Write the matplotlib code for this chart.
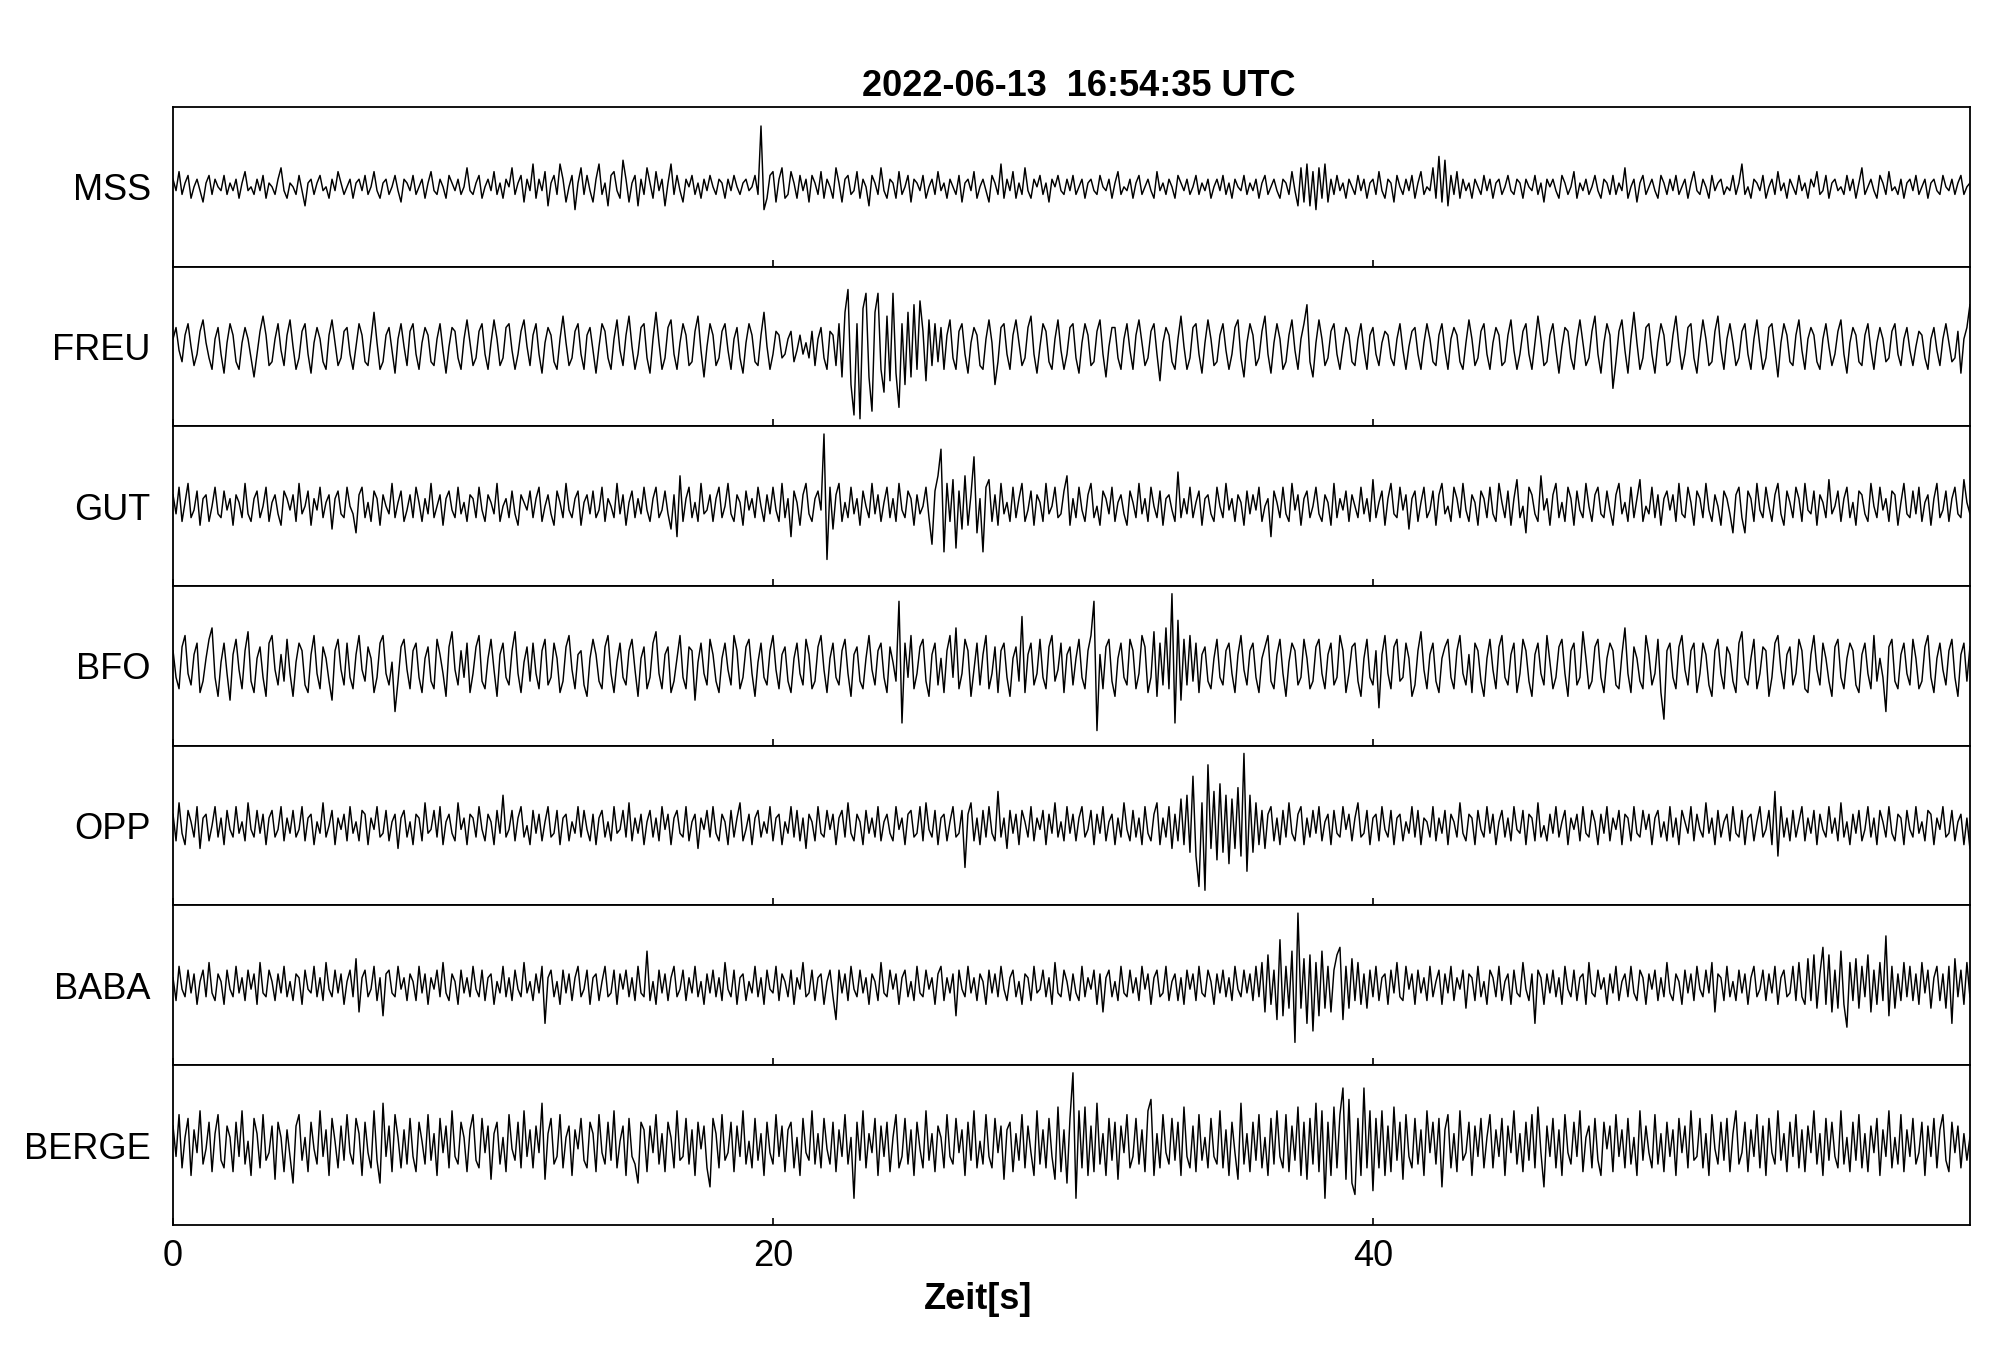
import numpy as np
import matplotlib
matplotlib.use('Agg')
import matplotlib.pyplot as plt

plt.rcParams['font.family'] = ['Liberation Sans', 'DejaVu Sans']

title = '2022-06-13  16:54:35 UTC'
stations = ['MSS', 'FREU', 'GUT', 'BFO', 'OPP', 'BABA', 'BERGE']
dt = 0.1  # Sekunden pro Wert

# Spuren (relative Amplitude, 0.1 s Raster)
mss = [
    2,-1,4,-2,1,3,-3,0,2,-1,-4,1,3,-2,2,0,-1,3,-2,1,
    -1,2,-3,1,4,-1,0,-2,2,-1,3,-3,1,0,-2,2,5,-1,-3,1,
    0,-2,3,-1,-5,1,2,-2,1,3,-1,0,-3,2,-1,4,1,-2,0,2,
    -3,1,2,-1,3,-2,0,4,-1,-3,1,2,-2,0,3,-1,-4,2,1,-1,
    3,-2,0,2,-3,1,4,-1,-2,2,0,-3,3,1,-1,2,-2,0,5,-1,
    -2,1,3,-3,0,2,-1,4,-2,1,-3,2,0,5,-2,1,3,-4,2,-1,
    6,-3,2,-1,4,-5,1,3,-2,6,2,-4,0,3,-6,1,5,-2,3,-1,
    -4,2,6,-2,1,-5,3,4,-1,-3,7,2,-4,1,3,-5,2,-2,5,1,
    -3,4,-1,2,-5,1,6,-2,3,-1,-4,2,0,3,-2,1,-3,2,-1,3,
    0,-2,2,1,-3,2,-1,3,0,-2,1,2,-1,0,3,-2,16,-6,-3,3,
    4,-4,2,5,-3,-2,4,1,-3,3,-1,2,-4,3,1,-2,4,-3,2,0,
    -3,5,1,-4,2,3,-2,-1,4,-3,2,0,-5,3,1,-2,5,-1,-3,2,
    1,-3,4,-2,0,3,-4,2,1,-1,3,-3,0,2,-2,4,-1,1,-3,2,
    0,-2,3,-4,1,2,-1,4,-3,0,2,-1,-4,3,1,-2,6,-3,2,-1,
    4,-3,1,-2,5,-1,-3,2,0,3,-2,1,-4,2,0,3,-1,-2,2,-1,
    3,-2,0,2,-3,1,2,-1,-2,3,0,-1,2,-3,1,4,-2,0,-1,2,
    -3,1,3,-2,0,2,-1,-3,4,-1,1,-2,2,0,-3,3,1,-1,2,-2,
    0,3,-2,1,-1,2,-3,0,2,-1,3,-2,1,-3,2,0,-1,3,-2,1,
    -1,2,-3,1,3,-2,0,2,-1,-3,2,1,-2,4,-1,-5,5,-4,6,-5,
    4,-6,5,-3,6,-4,2,-2,3,-1,1,-3,2,0,-2,3,-1,2,-3,1,
    2,-2,4,-1,-3,2,1,-4,3,0,-2,2,-1,3,-3,1,4,-2,0,-1,
    5,-3,8,-4,7,-5,3,-2,4,-3,2,-1,1,-3,2,0,-2,3,-1,2,
    -3,1,2,-2,0,3,-1,-2,2,1,-3,2,0,-1,3,-2,1,-4,2,0,
    2,-1,-3,3,1,-2,0,4,-3,1,-1,2,-2,0,3,-1,-3,2,1,-2,
    3,-2,1,-1,5,-3,0,2,-4,1,3,-2,0,2,-1,-3,3,1,-2,2,
    -1,3,-2,0,2,-3,1,4,-1,-2,2,0,-3,3,-1,1,2,-2,0,-1,
    3,-2,1,6,-2,0,-3,2,1,-1,3,-3,0,2,-2,4,-1,1,-3,2,
    0,-2,3,-1,1,-3,2,0,4,-2,-1,3,-3,1,2,-1,0,-2,3,-1,
    2,-3,1,5,-2,0,2,-1,-3,3,1,-2,4,-1,0,-2,2,-3,1,2,
    -1,3,-2,0,2,-3,1,2,-1,-2,3,0,-1,2,-2,1,3,-2,0,1,
]

freu = [
    2,5,-1,-4,3,6,0,-5,-2,4,7,1,-3,-6,2,5,-2,-7,1,6,
    3,-4,-6,1,5,2,-3,-8,-2,4,8,3,-5,-4,2,6,-1,-5,3,7,
    0,-6,-3,4,6,-2,-7,1,5,2,-4,-6,3,7,1,-5,-3,4,5,-2,
    -6,0,6,3,-4,-5,2,9,1,-6,-4,3,5,-1,-7,2,6,0,-5,4,
    6,-2,-6,1,5,3,-4,-5,2,6,-1,-7,0,5,4,-3,-6,2,7,1,
    -5,-3,4,6,-2,-6,1,7,2,-5,-3,5,6,-1,-6,-2,4,7,0,-5,
    3,6,-2,-7,1,5,3,-4,-6,2,8,1,-5,-3,4,6,-2,-6,3,5,
    -1,-7,0,6,4,-3,-6,2,7,-1,-5,3,8,0,-6,-2,5,6,-3,-7,
    2,9,1,-6,-3,5,7,-2,-6,1,6,3,-5,-4,4,8,-1,-8,0,6,
    3,-5,-3,4,6,-1,-6,2,5,-3,-7,1,6,3,-4,-5,3,9,0,-6,
    -2,4,3,-3,-2,2,4,-4,-1,3,-2,1,-3,4,-5,2,5,-3,-6,4,
    3,-5,6,-8,9,15,-10,-18,6,-19,10,14,-8,-17,9,14,-6,-12,8,-9,
    14,-7,-16,6,-10,9,-8,11,-6,12,4,-9,7,-5,6,-4,5,-6,3,7,
    -3,-6,4,6,-2,-7,1,5,3,-5,-6,2,7,1,-10,-4,5,6,-2,-6,
    3,7,1,-5,-3,5,8,-2,-7,0,6,4,-4,-6,2,7,-1,-6,-2,5,
    6,-3,-7,1,6,3,-5,-4,4,7,-2,-8,0,5,5,-3,-6,2,6,-1,
    -6,3,7,1,-5,-3,4,6,-2,-9,1,5,3,-4,-6,2,8,0,-6,-3,
    5,6,-2,-7,1,7,2,-5,-4,3,6,-1,-6,-2,5,7,-3,-8,1,6,
    3,-5,-3,4,8,-2,-7,1,6,2,-6,-4,3,7,-1,-6,2,6,11,-4,
    -8,1,7,2,-5,-3,4,6,-2,-6,0,5,3,-4,-5,2,6,-1,-6,3,
    5,-2,-5,1,4,3,-3,-5,2,6,-1,-6,0,4,5,-2,-6,1,6,2,
    -4,-5,3,6,-1,-6,2,5,3,-4,-6,1,7,2,-5,-3,4,6,-2,-6,
    1,5,3,-5,-4,3,7,-1,-6,-2,4,6,-2,-6,1,8,2,-5,-4,3,
    6,-1,-7,0,5,4,-3,-6,2,7,1,-5,-3,4,8,-2,-7,1,6,3,
    -11,-4,4,7,-1,-7,2,9,1,-6,-3,5,6,-2,-7,1,6,3,-5,-4,
    3,8,0,-6,-2,5,6,-3,-7,1,7,2,-5,-4,4,8,-1,-6,2,6,
    1,-5,-3,4,6,-2,-6,2,7,0,-6,-3,5,6,-1,-8,1,6,3,-4,
    -5,3,7,-1,-6,2,5,3,-4,-6,2,6,0,-5,-2,4,7,-2,-7,1,
    5,3,-4,-5,3,6,-1,-6,1,5,2,-4,-3,4,6,-2,-5,2,5,-1,
    -5,0,4,3,-3,-6,2,5,-1,-5,2,6,1,-4,-3,4,-7,2,5,11,
]

gut = [
    3,-2,5,-4,1,6,-3,-1,4,-5,2,3,-4,0,5,-2,-3,4,-1,2,
    -5,3,1,-3,6,-2,-4,2,4,-3,0,5,-4,1,3,-2,-5,4,2,-1,
    3,-4,6,-2,0,4,-5,2,-1,5,-3,1,3,-6,2,4,-2,-3,5,0,
    -2,-7,3,5,-3,1,-4,4,2,-5,3,0,-2,6,-3,1,4,-4,-1,3,
    -3,5,1,-4,2,-2,6,-3,0,3,-5,2,4,-1,-3,5,-2,1,-4,3,
    2,-3,5,-1,-4,3,1,-2,6,-4,0,2,-3,4,-2,-5,3,1,-1,4,
    -3,2,5,-4,0,3,-2,-5,4,1,-3,6,-1,-3,2,4,-5,1,3,-2,
    4,-3,-1,5,-4,2,0,-3,6,-2,3,-5,1,4,-3,2,-2,5,-1,-4,
    2,5,-3,-1,4,-2,-6,3,-8,8,-4,2,5,-3,1,-4,6,-2,-1,3,
    -4,2,5,-3,0,6,-2,-4,3,1,-5,4,-1,2,-3,5,0,-4,3,-2,
    5,-1,-4,6,-3,2,-8,4,1,-5,3,6,-2,-4,2,4,-1,19,-14,5,
    -6,3,6,-4,1,-3,5,-2,2,-5,4,0,-3,6,-2,3,-4,1,5,-3,
    2,-4,6,-1,-3,4,2,-5,3,-2,0,5,-3,-10,4,8,15,-12,6,-4,
    7,-11,4,-6,8,-5,3,13,-7,2,-12,5,7,-4,3,-5,6,-2,1,-4,
    5,-3,2,6,-4,-1,4,-5,3,1,-4,6,-2,0,5,-3,-2,4,8,-5,
    2,-3,5,-1,-4,3,6,-3,0,-5,4,2,-2,5,-4,1,3,-2,-5,4,
    1,-3,6,-2,2,-4,5,0,-3,4,-5,2,3,-1,-4,9,-3,2,-2,5,
    -3,1,4,-5,2,3,-2,-4,5,0,-3,6,-1,2,-4,3,1,-5,4,-2,
    3,-1,5,-4,0,2,-8,4,1,-3,5,-2,-4,6,-1,3,-5,2,4,-3,
    0,5,-2,-4,3,1,-5,6,-3,2,-1,4,-4,3,0,-3,5,-2,2,-4,
    7,-3,1,4,-5,2,6,-2,-3,5,-1,3,-6,2,4,-4,1,5,-3,-1,
    4,-5,3,6,-2,0,-4,5,2,-3,6,-1,-4,3,1,-5,4,2,-3,5,
    -2,-4,6,1,-3,4,-5,2,7,-3,0,-7,5,3,-2,-4,8,-1,2,-5,
    3,6,-3,1,-4,5,2,-5,4,-1,-3,6,0,-4,3,5,-2,-3,4,-1,
    -5,3,6,-2,1,-4,5,-3,2,7,-4,0,-2,5,-3,3,-5,2,4,-1,
    3,-4,6,-2,-3,5,1,-5,4,2,-3,6,-1,-4,3,0,-5,4,2,-2,
    -7,3,5,-3,-7,4,2,-4,6,-1,-3,5,0,-4,3,6,-2,-5,4,1,
    -3,5,2,-4,6,-1,-2,4,-5,3,1,-3,7,-2,0,4,-4,2,5,-3,
    1,-5,4,3,-2,-4,6,0,-3,5,-1,2,-4,4,3,-5,1,6,-2,-3,
    4,-2,5,-4,1,3,-5,2,6,-3,-1,4,-4,2,5,-2,-3,7,1,-2,
]

bfo = [
    4,-3,-6,5,8,-2,-5,3,6,-7,-4,2,7,10,-3,-8,1,6,-2,-9,
    3,7,-1,-6,4,9,-4,-7,2,5,-3,-8,6,8,-1,-5,3,-4,7,-2,
    -8,1,6,4,-5,-7,3,8,-2,-6,5,2,-4,-9,4,7,-1,-5,6,-3,
    -6,3,8,-1,-4,5,2,-7,-3,6,8,-2,-5,1,-12,-4,5,7,-1,-6,
    4,6,-3,-7,2,5,-4,-6,7,3,-2,-8,5,9,-1,-5,4,-3,6,-7,
    -2,5,8,-4,-6,2,7,-1,-8,3,6,-3,-5,4,9,-2,-7,1,5,-4,
    6,-2,-6,4,7,-5,-3,6,2,-7,-4,5,8,-1,-6,3,4,-5,-8,2,
    7,3,-4,-6,5,8,-2,-7,1,6,-3,-5,4,7,-1,-8,2,5,-6,-3,
    6,9,-2,-6,3,5,-7,-4,2,8,-3,-6,5,4,-9,1,6,-2,-5,7,
    3,-4,-7,2,6,-1,-5,8,4,-6,-3,5,7,-2,-8,1,6,-3,-5,4,
    8,-1,-6,3,5,-4,-7,2,6,-2,-5,7,3,-6,-4,5,8,-1,-7,2,
    6,-3,-5,4,7,-2,-8,3,5,-4,-6,2,8,-1,-5,4,6,-3,-7,5,
    1,-4,17,-15,6,-3,8,-6,-2,5,7,-4,-8,3,6,-5,2,-7,4,8,
    -3,10,-6,-2,7,4,-8,-1,6,-5,3,8,-6,-2,5,-7,4,6,-3,-8,
    2,5,-4,13,-7,3,6,-5,-2,7,-3,-6,5,8,-4,-1,6,-7,3,5,
    -5,2,7,-3,-6,4,8,17,-17,3,-6,5,7,-4,-8,2,6,-3,-5,7,
    4,-6,-2,8,5,-7,-3,9,-8,6,-5,10,-6,19,-15,12,-9,7,-5,8,
    -4,6,-7,3,5,-4,-6,2,7,-3,-5,4,6,-2,-7,3,8,-1,-5,4,
    6,-3,-7,2,5,8,-4,-6,3,7,-2,-8,1,6,4,-5,-3,7,2,-6,
    -4,5,7,-2,-6,3,6,-5,-3,8,4,-7,-2,5,6,-4,-8,2,7,-3,
    -5,4,-11,3,8,-2,-6,5,7,-4,-3,6,2,-8,-5,4,9,-1,-6,3,
    6,-4,-7,2,5,7,-3,-6,4,8,-2,-5,3,-7,6,4,-4,-8,2,7,
    -1,-6,5,8,-3,-5,3,6,-7,-2,7,4,-4,-8,3,6,-2,-5,8,1,
    -6,-3,5,7,-2,-8,4,6,-5,-3,9,2,-6,-4,5,7,-3,-7,2,6,
    4,-5,-6,3,10,-2,-7,5,2,-4,-6,8,3,-5,-2,7,-7,-14,4,6,
    -3,-6,5,8,-1,-5,4,6,-7,-2,6,3,-5,-8,4,7,-2,-6,5,3,
    -4,-7,6,9,-3,-5,2,7,-6,-2,5,4,-8,-3,6,8,-1,-6,3,5,
    -5,-2,7,4,-6,-7,3,8,-1,-5,6,2,-4,-8,5,7,-3,-6,2,6,
    4,-5,-7,3,6,-2,-6,8,-4,2,-3,-12,5,7,-4,-6,3,6,-2,-5,
    7,2,-6,-4,5,8,-3,-7,2,6,-1,-5,4,7,-3,-8,3,6,-4,5,
]

opp = [
    3,-4,6,-2,-5,4,1,-3,5,-6,2,3,-4,0,5,-3,2,-5,4,-1,
    -3,5,-2,1,-4,6,-1,-3,4,-2,3,-5,2,4,-3,-1,5,-4,2,-2,
    4,-3,-1,5,-4,2,3,-5,1,-2,6,-3,0,4,-5,2,-1,3,-4,5,
    -2,1,-4,4,3,-5,2,-1,5,-3,-2,4,-4,1,3,-6,2,4,-3,1,
    -5,3,2,-4,6,-2,-1,4,-3,5,-5,1,3,-2,-4,6,-1,2,-5,3,
    2,-3,5,-1,-4,3,1,-5,4,-2,8,-3,-1,4,-4,2,5,-3,0,-5,
    4,-2,3,-4,1,5,-3,-2,4,-5,2,3,-4,1,-2,5,-3,4,-1,-4,
    3,-5,2,4,-3,1,-4,5,-2,-1,4,-3,6,-4,2,-2,3,-5,1,4,
    -3,2,-4,5,-1,3,-5,2,4,-2,-3,5,-4,1,3,-6,2,-1,4,-3,
    5,-2,-4,3,1,-5,4,-3,2,6,-4,-1,3,-5,2,4,-3,1,-2,5,
    -4,2,3,-5,1,-2,5,-3,4,-4,2,-6,3,1,-4,5,-2,-3,4,-1,
    3,-5,2,4,-3,6,-2,-4,3,1,-5,4,-2,2,-3,5,-4,1,3,-2,
    -4,5,-1,2,-5,3,4,-3,-2,5,-4,6,-1,-3,4,-5,2,3,-4,1,
    5,-3,-2,4,-11,3,6,-4,2,-5,4,-3,5,-2,-4,9,-3,2,-6,4,
    -2,3,-5,4,1,-3,5,-4,2,-1,4,-5,3,-2,6,-3,1,-4,5,-2,
    3,-4,2,5,-3,-1,4,-5,3,-2,5,-4,1,3,-5,2,-3,6,-1,-4,
    4,-3,2,-5,5,-2,-4,3,6,-5,2,-3,5,-6,3,-4,7,-5,8,-7,
    13,-8,-16,6,-17,16,-6,9,-9,11,-7,8,-10,7,-6,10,-8,19,-12,8,
    -7,6,-5,4,-6,3,5,-4,2,-5,4,-3,6,-2,-4,3,5,-5,2,-3,
    4,-2,5,-4,1,3,-5,4,-2,-3,5,-1,3,-4,2,6,-3,-2,4,-5,
    2,3,-4,5,-1,-3,4,-5,2,3,-4,1,-2,5,-3,4,-5,2,1,-3,
    5,-4,2,-2,4,-5,3,1,-3,6,-2,-4,3,2,-5,4,-1,-3,5,-2,
    3,-5,1,4,-3,2,-4,5,-1,-2,4,-5,3,2,-4,6,-3,0,-4,3,
    -2,5,-3,1,4,-5,2,-1,3,-4,5,-2,-3,4,1,-5,3,-2,5,-4,
    2,-1,4,-5,3,2,-4,5,-2,-3,4,-1,3,-5,2,4,-3,1,-4,5,
    -3,2,-5,4,1,-2,5,-4,3,-1,-3,6,-2,2,-5,4,-3,1,3,-4,
    5,-2,-3,4,-5,2,3,-4,1,5,-3,-1,4,-5,9,-8,5,-3,2,-4,
    4,-3,1,5,-4,2,-2,4,-5,3,-1,-3,5,-2,2,-4,6,-3,1,-5,
    3,-2,4,-4,-1,5,-3,2,-5,4,1,-3,5,-2,-4,3,2,-5,4,-1,
    -3,5,-2,1,-4,4,3,-5,2,-1,5,-3,-2,4,-4,1,3,-5,2,-6,
]

baba = [
    2,-4,5,-1,-3,4,-2,3,-5,1,4,-3,6,-2,-4,3,1,-5,4,-1,
    -3,5,-2,2,-4,4,-1,3,-5,6,-2,-3,4,1,-4,3,-2,5,-3,1,
    -4,3,2,-5,4,-1,-2,5,-3,2,-4,6,-1,-3,4,-2,3,-5,1,4,
    -3,7,-7,2,4,-3,-1,5,-4,2,-8,3,4,-2,-3,5,-1,2,-4,3,
    1,-4,5,-2,3,-5,2,-1,4,-3,6,-2,-4,3,1,-5,4,-2,2,-3,
    5,-1,-3,4,-4,2,3,-5,1,-2,5,-3,2,-4,4,-1,-3,6,-2,1,
    -4,3,-2,5,-10,2,4,-3,1,-5,4,-2,3,-4,2,5,-3,-1,4,-5,
    2,3,-4,1,5,-3,-2,4,-5,3,-1,4,-3,2,-4,5,-2,-3,9,-4,
    1,-5,4,-2,3,-4,2,5,-3,-1,4,-4,2,-2,5,-3,1,-5,3,-2,
    4,-3,2,-4,6,-1,-3,4,-5,2,3,-4,1,-2,5,-3,2,-5,4,-1,
    -2,5,-4,3,1,-3,4,-5,2,-1,6,-3,-2,4,-4,2,3,-5,1,4,
    -3,-9,4,-2,3,-4,5,-1,-3,4,-2,2,-5,3,1,-4,6,-2,-3,4,
    -1,3,-5,2,4,-3,1,-4,5,-2,-3,4,-1,2,-5,3,5,-4,2,-2,
    3,-8,4,-1,-3,5,-2,2,-4,3,1,-5,4,-2,3,-3,5,-1,-4,2,
    4,-3,1,-5,3,2,-4,5,-2,-1,4,-3,2,-5,6,-2,-3,4,1,-4,
    3,-2,-4,5,-3,2,-1,4,-5,3,-7,2,4,-3,1,-4,5,-2,-3,4,
    -2,2,-4,5,-1,3,-5,2,4,-3,-2,5,-4,1,3,-4,2,-5,4,-1,
    3,-4,5,-2,-3,4,1,-5,3,-2,4,-3,2,-4,5,-1,-3,4,-2,3,
    -4,5,-3,6,-7,8,-5,4,-9,12,-8,5,-6,9,-15,19,-6,7,-10,8,
    -12,6,-8,9,-6,5,-7,4,8,10,-9,5,-6,7,-4,6,-5,3,-6,4,
    -3,5,-4,2,3,-5,4,-2,6,-3,-4,5,-1,3,-5,4,-2,2,-4,5,
    -3,1,4,-5,3,-2,5,-4,2,-1,4,-6,3,2,-4,5,-3,1,-5,4,
    2,-3,5,-4,1,3,-5,4,-2,-3,6,-1,-4,3,-10,4,2,-5,3,-2,
    4,-3,2,-5,5,-1,-3,4,-4,2,3,-5,6,-2,-3,4,-1,2,-5,3,
    -2,5,-4,1,3,-3,5,-2,-4,4,2,-5,3,-1,4,-4,2,-3,6,-2,
    -4,3,1,-5,4,-2,3,-4,5,-1,-3,4,-2,6,-7,3,2,-4,5,-3,
    1,-4,4,-2,3,-5,2,5,-3,-1,4,-4,3,-2,5,-5,2,4,-3,-2,
    5,-4,6,-3,-5,7,-4,8,-6,3,10,-5,8,-7,4,-6,9,-5,-11,6,
    -4,7,-6,5,-3,8,-7,4,-5,6,-4,13,-8,5,-6,3,-4,6,-3,5,
    -4,3,-5,6,-2,4,-6,2,5,-4,3,-6,5,-10,7,-3,4,-5,6,-3,
]

berge = [
    5,-3,8,-6,2,7,-8,4,-2,9,-5,-1,6,-7,3,8,-4,-6,5,2,
    -7,6,-3,9,-5,1,-8,7,3,-6,8,-4,-2,5,-9,6,2,-7,4,-3,
    -10,5,8,-4,2,-7,6,-1,-5,9,-3,4,-8,7,1,-6,5,-4,8,-2,
    -5,7,3,-8,6,-2,-6,9,-4,-10,11,-3,5,-7,8,2,-6,4,-5,7,
    -3,-7,6,1,-5,8,-4,3,-8,7,-2,5,-6,9,-3,-5,6,2,-7,4,
    8,-4,-6,7,-2,5,-9,3,6,-5,2,-7,8,-1,-4,6,-6,9,-3,4,
    -6,5,-2,11,-9,3,7,-5,-3,8,-6,2,5,-8,4,-1,7,-4,-6,6,
    3,-7,8,-2,-5,6,-4,9,-6,1,5,-8,7,-3,-5,-10,6,4,-7,5,
    -2,8,-5,3,-7,6,2,-6,9,-4,-3,7,-5,4,-8,6,-1,5,-6,-11,
    7,3,-6,8,-4,-2,6,-7,5,-3,9,-5,1,-6,7,-4,3,-8,6,-2,
    -5,8,-3,5,-7,4,6,-6,2,-8,7,-2,-4,9,-5,3,-6,7,-1,-5,
    6,-7,4,-3,8,-5,2,-14,6,-4,9,-6,3,-2,7,-8,5,-3,6,-7,
    2,8,-6,-3,7,-5,4,-8,6,-1,-6,9,-4,3,-7,5,2,-6,8,-3,
    -5,7,-2,4,-8,6,-4,9,-6,1,-5,8,-3,-6,7,-2,5,-9,4,6,
    -7,3,-4,8,-6,5,-2,-8,9,-5,4,-6,7,-3,-9,10,-7,4,-10,7,
    19,-14,9,-6,10,-8,5,-7,11,-5,3,-8,7,-4,6,-9,5,-2,8,-6,
    -3,7,-5,4,-7,9,12,-8,3,-6,8,-2,-5,7,-4,6,-8,10,-3,-6,
    5,-7,8,-4,2,-6,7,-3,-5,9,-6,4,-8,6,-2,-9,11,-5,3,-7,
    6,-4,8,-6,2,-8,7,-5,9,-3,-6,8,-7,5,-4,10,-8,6,-9,7,
    -5,11,-7,9,-14,6,-8,10,-6,8,15,-9,12,-10,-13,7,-8,15,-6,9,
    -12,7,-6,9,-8,5,-7,10,-4,6,-9,8,-3,-6,7,-5,4,-8,9,-2,
    6,-5,7,-11,4,8,-6,3,-7,9,-4,-2,6,-8,5,-3,7,-6,2,8,
    -6,4,-3,7,-8,5,-2,9,-5,3,-7,6,-4,8,-6,10,-2,-11,5,-3,
    7,-6,4,-8,8,-2,-5,6,-3,9,-7,2,5,-6,7,-4,-8,6,-1,5,
    -7,8,-3,4,-6,7,-5,2,-8,9,-4,5,-2,-6,8,-5,3,-7,6,-3,
    4,-8,7,-2,5,-6,9,-4,-3,7,-6,3,-8,8,-1,-5,6,-4,7,-7,
    3,9,-5,-2,6,-7,4,-3,8,-6,5,-8,7,-2,-5,9,-4,3,-7,6,
    -3,8,-6,4,-7,5,-2,9,-5,3,-8,7,-4,6,-3,-6,9,-5,2,-7,
    6,-4,8,-6,3,-7,5,-2,7,-8,4,-3,9,-6,2,-5,8,-7,4,-3,
    7,-5,-2,6,-8,5,-3,7,-6,4,8,-4,-7,6,-2,5,-6,3,-4,2,
]

traces = [mss, freu, gut, bfo, opp, baba, berge]
xticks = [0, 20, 40]

fig, axes = plt.subplots(len(stations), 1, sharex=True, figsize=(20.05, 13.61), dpi=100)
plt.subplots_adjust(left=0.0863, right=0.9825, top=0.9214, bottom=0.100, hspace=0)

for ax, name, y in zip(axes, stations, traces):
    t = np.arange(len(y)) * dt
    ax.plot(t, y, color='black', lw=1.05)
    ax.set_ylim(-21, 21)
    ax.set_xlim(0, 59.9)
    ax.set_yticks([0])
    ax.set_yticklabels([name])
    ax.tick_params(axis='y', length=0, pad=16, labelsize=26)
    ax.tick_params(axis='x', direction='in', length=5, width=1.2, labelsize=26, pad=10,
                   top=False, labelbottom=False)
    for s in ax.spines.values():
        s.set_linewidth(1.3)

axes[-1].set_xticks(xticks)
axes[-1].tick_params(axis='x', labelbottom=True)
axes[-1].set_xlabel('Zeit[s]', fontsize=26, fontweight='bold', labelpad=6, x=0.448)
axes[0].set_title(title, fontsize=26, fontweight='bold', pad=8, x=0.504)

fig.savefig('out.png', dpi=100)
